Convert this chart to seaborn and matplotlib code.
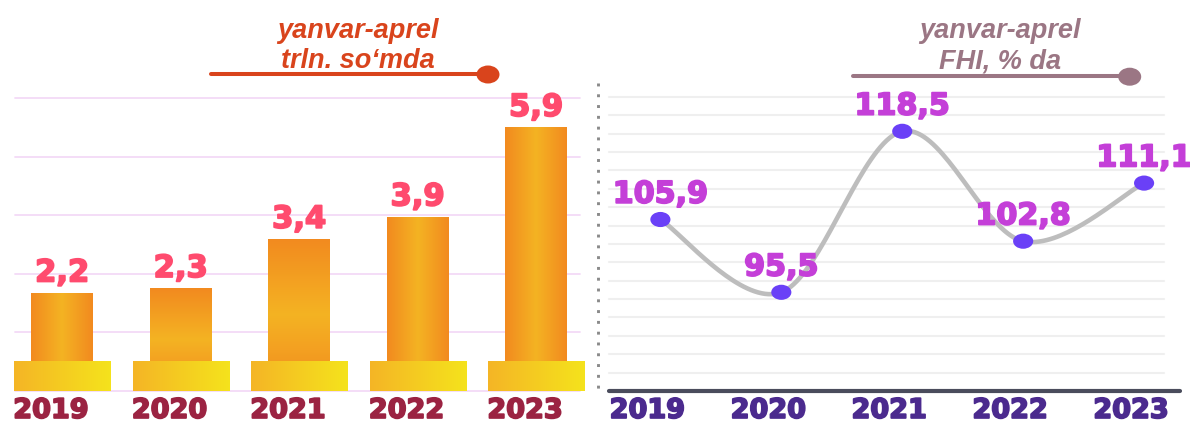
import numpy as np
import matplotlib
matplotlib.use("Agg")
import matplotlib.pyplot as plt
import seaborn as sns
from matplotlib.path import Path
from matplotlib.patches import Ellipse
from matplotlib.lines import Line2D
from matplotlib.colors import LinearSegmentedColormap
import matplotlib.patheffects as pe

# ---------------- data ----------------
years = ["2019", "2020", "2021", "2022", "2023"]
volume = [2.2, 2.3, 3.4, 3.9, 5.9]
volume_labels = ["2,2", "2,3", "3,4", "3,9", "5,9"]
index = [105.9, 95.5, 118.5, 102.8, 111.1]
index_labels = ["105,9", "95,5", "118,5", "102,8", "111,1"]
left_title = ["yanvar-aprel", "trln. so‘mda"]
right_title = ["yanvar-aprel", "FHI, % da"]

# ---------------- setup ----------------
W, H = 1190, 425
sns.set_theme(style="white")
plt.rcParams['font.family'] = ['DejaVu Sans']
fig = plt.figure(figsize=(W / 100, H / 100), dpi=100, facecolor="white")


def fx(px):
    return px / W


def fy(py):
    return 1 - py / H


NUM_FONT = ['DejaVu Sans']
TITLE_FONT = ['Liberation Sans', 'DejaVu Sans']


def heavy(color, w=1.3):
    return [pe.withStroke(linewidth=w, foreground=color)]


# ---------------- left panel: bars ----------------
axL = fig.add_axes([fx(15), fy(391), fx(580) - fx(15), fy(98) - fy(391)])
axL.set_facecolor("none")
sns.barplot(x=years, y=volume, ax=axL, width=0.523, color="#F39A20",
            saturation=1, linewidth=0, errorbar=None, zorder=3)
bar_patches = list(axL.patches)

YMAX_L = 6.55
XLIM_L = (-0.397, 4.37)

for v in np.linspace(0, YMAX_L, 6):
    axL.axhline(v, color="#F3DAF7", lw=1.3, zorder=1, clip_on=False)

cmap_bar = LinearSegmentedColormap.from_list("bar", ["#F28A1F", "#F4B323", "#F28A1F"])
directions = ["h", "v", "v", "h", "h"]
grad = np.linspace(0, 1, 256)
for patch, d in zip(bar_patches, directions):
    x0, y0 = patch.get_x(), patch.get_y()
    w, h = patch.get_width(), patch.get_height()
    img = grad[None, :] if d == "h" else grad[:, None]
    im = axL.imshow(img, cmap=cmap_bar, extent=(x0, x0 + w, y0, y0 + h),
                    aspect='auto', origin='lower', zorder=3.5, interpolation='bicubic')
    im.set_clip_path(patch)

# pedestal bases
BASE_H = 0.67
cmap_base = LinearSegmentedColormap.from_list("base", ["#F4B526", "#F5E31C"])
bases = axL.bar(np.arange(len(years)), [BASE_H] * len(years), width=0.81,
                color="#F4C820", linewidth=0, zorder=4)
for patch in bases:
    x0, y0 = patch.get_x(), patch.get_y()
    w, h = patch.get_width(), patch.get_height()
    im = axL.imshow(grad[None, :], cmap=cmap_base, extent=(x0, x0 + w, y0, y0 + h),
                    aspect='auto', origin='lower', zorder=4.5, interpolation='bicubic')
    im.set_clip_path(patch)

axL.set_ylim(0, YMAX_L)
axL.set_xlim(*XLIM_L)

for i, (v, lbl) in enumerate(zip(volume, volume_labels)):
    axL.annotate(lbl, xy=(i, v), xytext=(0, 8), textcoords='offset points',
                 ha='center', va='baseline', fontsize=22, fontweight='bold',
                 color='#FF4B6E', family=NUM_FONT, annotation_clip=False, zorder=6,
                 path_effects=heavy('#FF4B6E'))

for i, y in enumerate(years):
    axL.annotate(y, xy=(i, 0), xycoords=('data', 'axes fraction'),
                 xytext=(-8, -19.4), textcoords='offset points',
                 ha='center', va='baseline', fontsize=19.5, fontweight='bold',
                 color='#9B2342', family=NUM_FONT, annotation_clip=False,
                 path_effects=heavy('#9B2342'))

axL.set_xticks([])
axL.set_yticks([])
axL.set(xlabel='', ylabel='')
for s in axL.spines.values():
    s.set_visible(False)

# ---------------- right panel: smoothed line ----------------
axR = fig.add_axes([fx(609), fy(391), fx(1180) - fx(609), fy(97) - fy(391)])
axR.set_facecolor("none")
YLO, YHI = 81.4, 123.4
XLO, XHI = -0.425, 4.297


def catmull_rom(xs, ys, n=40):
    P = np.column_stack([xs, ys]).astype(float)
    P = np.vstack([P[0], P, P[-1]])
    out = []
    t = np.linspace(0, 1, n)[:, None]
    for i in range(1, len(P) - 2):
        p0, p1, p2, p3 = P[i - 1], P[i], P[i + 1], P[i + 2]
        seg = 0.5 * ((2 * p1) + (-p0 + p2) * t + (2 * p0 - 5 * p1 + 4 * p2 - p3) * t ** 2
                     + (-p0 + 3 * p1 - 3 * p2 + p3) * t ** 3)
        out.append(seg if i == 1 else seg[1:])
    return np.vstack(out)


xpos = np.arange(len(years))
curve = catmull_rom(xpos, index)

for v in np.linspace(YLO, YHI, 17)[1:]:
    axR.axhline(v, xmin=0, xmax=0.972, color="#EFEFEF", lw=1.5, zorder=1, clip_on=False)

sns.lineplot(x=curve[:, 0], y=curve[:, 1], ax=axR, color="#BDBDBD", lw=3.3,
             sort=False, estimator=None, zorder=3)

ell = Path.unit_circle()
ell = Path(ell.vertices * np.array([1.33, 1.0]), ell.codes)
sns.scatterplot(x=xpos, y=index, ax=axR, marker=ell, s=210, color="#6A40F7",
                edgecolor="none", linewidth=0, zorder=4)

for i, (v, lbl) in enumerate(zip(index, index_labels)):
    axR.annotate(lbl, xy=(i, v), xytext=(0, 12), textcoords='offset points',
                 ha='center', va='baseline', fontsize=21.7, fontweight='bold',
                 color='#C43FD8', family=NUM_FONT, annotation_clip=False, zorder=6,
                 path_effects=heavy('#C43FD8'))

for i, y in enumerate(years):
    axR.annotate(y, xy=(i, 0), xycoords=('data', 'axes fraction'),
                 xytext=(-9.4, -19.4), textcoords='offset points',
                 ha='center', va='baseline', fontsize=19.5, fontweight='bold',
                 color='#4B2A8E', family=NUM_FONT, annotation_clip=False,
                 path_effects=heavy('#4B2A8E'))

axR.set_xlim(XLO, XHI)
axR.set_ylim(YLO, YHI)
axR.set_xticks([])
axR.set_yticks([])
axR.set(xlabel='', ylabel='')
for k, s in axR.spines.items():
    s.set_visible(k == "bottom")
axR.spines["bottom"].set_color("#4A4C5C")
axR.spines["bottom"].set_linewidth(3)
axR.spines["bottom"].set_capstyle("round")

# dotted separator
fig.add_artist(Line2D([fx(598.3), fx(598.3)], [fy(83), fy(393)], transform=fig.transFigure,
                      color="#8A8A8A", lw=2.1, linestyle=(0, (1, 2.7)),
                      dash_capstyle="butt"))


# ---------------- titles ----------------
def title_block(lines, cx, color, line_x0, line_x1, line_y, dot_cx, dot_cy):
    for ln, by in zip(lines, [37.5, 68.5]):
        fig.text(fx(cx), fy(by), ln, ha='center', va='baseline', fontsize=19.5,
                 fontweight='bold', fontstyle='italic', color=color, family=TITLE_FONT)
    fig.add_artist(Line2D([fx(line_x0), fx(line_x1)], [fy(line_y), fy(line_y)],
                          transform=fig.transFigure, color=color, lw=2.9,
                          solid_capstyle='round'))
    fig.add_artist(Ellipse((fx(dot_cx), fy(dot_cy)), width=23 / W, height=18 / H,
                           transform=fig.transFigure, color=color, lw=0))


title_block(left_title, 358, "#D9441C", 211, 480, 73.5, 488, 74.5)
title_block(right_title, 1000, "#9B7684", 853, 1122, 76, 1129.7, 76.7)

fig.savefig("out.png", dpi=100, facecolor="white")
